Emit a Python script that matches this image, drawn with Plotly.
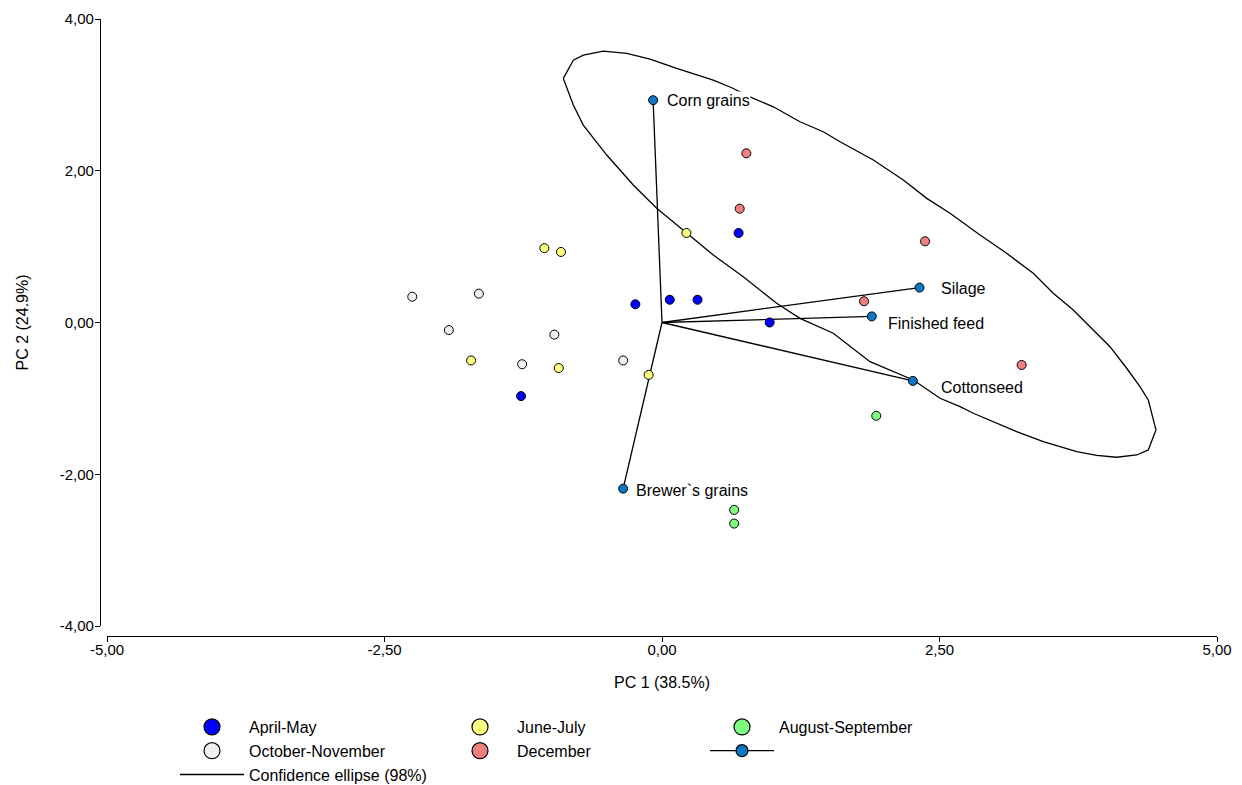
import plotly.graph_objects as go

# ---------------- data ----------------
april_may_x = [0.69, 0.07, 0.32, -0.24, 0.97, -1.27]
april_may_y = [1.18, 0.30, 0.30, 0.24, 0.00, -0.97]

june_july_x = [0.22, -1.06, -0.91, -1.72, -0.93, -0.12]
june_july_y = [1.18, 0.98, 0.93, -0.50, -0.60, -0.69]

aug_sep_x = [1.93, 0.65, 0.65]
aug_sep_y = [-1.23, -2.47, -2.65]

oct_nov_x = [-2.25, -1.65, -1.92, -0.97, -1.26, -0.35]
oct_nov_y = [0.34, 0.38, -0.10, -0.16, -0.55, -0.50]

december_x = [0.76, 0.70, 2.37, 1.82, 3.24]
december_y = [2.23, 1.50, 1.07, 0.28, -0.56]

variable_names = ["Corn grains", "Silage", "Finished feed", "Cottonseed", "Brewer`s grains"]
variable_x = [-0.08, 2.32, 1.89, 2.26, -0.35]
variable_y = [2.93, 0.46, 0.08, -0.77, -2.19]

ellipse_x = [-0.889, -0.799, -0.709, -0.529, -0.318, -0.108, 0.132, 0.282, 0.462, 0.628,
             0.823, 1.003, 1.243, 1.453, 1.604, 1.904, 2.174, 2.385, 2.595, 2.865,
             3.105, 3.345, 3.525, 3.705, 3.871, 4.036, 4.186, 4.306, 4.381, 4.450,
             4.381, 4.277, 4.096, 3.916, 3.736, 3.435, 3.195, 2.985, 2.805, 2.685,
             2.505, 2.264, 1.874, 1.543, 1.243, 1.033, 0.732, 0.462, 0.223, -0.048,
             -0.259, -0.498, -0.709, -0.799, -0.889]
ellipse_y = [3.217, 3.458, 3.524, 3.577, 3.547, 3.472, 3.349, 3.283, 3.195, 3.094,
             2.954, 2.843, 2.646, 2.514, 2.382, 2.141, 1.877, 1.636, 1.439, 1.153,
             0.912, 0.648, 0.385, 0.165, -0.076, -0.319, -0.603, -0.846, -1.021, -1.416,
             -1.680, -1.746, -1.776, -1.750, -1.702, -1.570, -1.439, -1.307, -1.196, -1.109,
             -0.999, -0.758, -0.516, -0.142, 0.055, 0.253, 0.603, 0.889, 1.183, 1.505,
             1.812, 2.207, 2.602, 2.866, 3.217]

x_ticks = [-5, -2.5, 0, 2.5, 5]
x_ticklabels = ["-5,00", "-2,50", "0,00", "2,50", "5,00"]
y_ticks = [-4, -2, 0, 2, 4]
y_ticklabels = ["-4,00", "-2,00", "0,00", "2,00", "4,00"]

# ---------------- styles ----------------
FONT = "Arial, 'Liberation Sans', sans-serif"
groups = [
    ("April-May", april_may_x, april_may_y, "#0000FF", "legend"),
    ("June-July", june_july_x, june_july_y, "#FFFF80", "legend2"),
    ("August-September", aug_sep_x, aug_sep_y, "#80FF80", "legend3"),
    ("October-November", oct_nov_x, oct_nov_y, "#F0F0F0", "legend"),
    ("December", december_x, december_y, "#F08080", "legend2"),
]
VAR_COLOR = "#0A78C2"
label_shift = {  # (xshift, yshift) in px
    "Corn grains": (13, 0),
    "Silage": (20, -1),
    "Finished feed": (15, -7),
    "Cottonseed": (27, -7),
    "Brewer`s grains": (12, -2),
}

fig = go.Figure()

# confidence ellipse
fig.add_trace(go.Scatter(x=ellipse_x, y=ellipse_y, mode="lines",
                         line=dict(color="black", width=1.3),
                         showlegend=False, hoverinfo="skip"))

# loading vectors from the origin
vx, vy = [], []
for x, y in zip(variable_x, variable_y):
    vx += [0, x, None]
    vy += [0, y, None]
fig.add_trace(go.Scatter(x=vx, y=vy, mode="lines",
                         line=dict(color="black", width=1.3),
                         showlegend=False, hoverinfo="skip"))

# observations
for name, gx, gy, col, lg in groups:
    fig.add_trace(go.Scatter(x=gx, y=gy, mode="markers", name=name,
                             marker=dict(size=9, color=col,
                                         line=dict(color="black", width=1)),
                             showlegend=False))

# variable points
fig.add_trace(go.Scatter(x=variable_x, y=variable_y, mode="markers",
                         marker=dict(size=9, color=VAR_COLOR,
                                     line=dict(color="black", width=1)),
                         showlegend=False, text=variable_names))

# legend entries (legend-only traces)
for name, gx, gy, col, lg in groups:
    fig.add_trace(go.Scatter(x=[None], y=[None], mode="markers", name=name,
                             marker=dict(size=16, color=col,
                                         line=dict(color="black", width=1.2)),
                             legend=lg))
fig.add_trace(go.Scatter(x=[None], y=[None], mode="lines", name="Confidence ellipse (98%)",
                         line=dict(color="black", width=1.3), legend="legend"))
fig.add_trace(go.Scatter(x=[None], y=[None], mode="lines+markers", name=" ",
                         line=dict(color="black", width=1.3),
                         marker=dict(size=12, color=VAR_COLOR,
                                     line=dict(color="black", width=1.2)),
                         legend="legend3"))

for name, x, y in zip(variable_names, variable_x, variable_y):
    xs, ys = label_shift[name]
    fig.add_annotation(x=x, y=y, text=name, showarrow=False,
                       xanchor="left", yanchor="middle", xshift=xs, yshift=ys,
                       bgcolor="white", borderpad=0,
                       font=dict(family=FONT, size=16, color="black"))

# page has an 8px body margin; figure is sized/positioned to compensate
FIG_W, FIG_H = 1234, 777
L, R, T, B = 92, 25, 11, 149
W = FIG_W - L - R
H = FIG_H - T - B

legend_common = dict(orientation="v", xanchor="left", yanchor="top",
                     font=dict(family=FONT, size=16, color="black"),
                     itemwidth=64, bgcolor="rgba(0,0,0,0)", tracegroupgap=0,
                     itemclick=False)
ytop = -(702 - (FIG_H - B)) / H
fig.update_layout(
    width=FIG_W, height=FIG_H,
    margin=dict(l=L, r=R, t=T, b=B, autoexpand=False),
    paper_bgcolor="white", plot_bgcolor="white",
    font=dict(family=FONT, size=16, color="black"),
    legend=dict(x=(167 - L) / W, y=ytop, **legend_common),
    legend2=dict(x=(435 - L) / W, y=ytop, **legend_common),
    legend3=dict(x=(697 - L) / W, y=ytop, **legend_common),
    xaxis=dict(range=[-5, 5], domain=[7 / W, 1], anchor="free", position=0,
               tickvals=x_ticks, ticktext=x_ticklabels, showgrid=False, zeroline=False,
               showline=True, linecolor="black", linewidth=1.3,
               ticks="outside", ticklen=5, tickcolor="black", tickwidth=1.3,
               ticklabelstandoff=-5,
               tickfont=dict(family=FONT, size=15, color="black"),
               title=dict(text="PC 1 (38.5%)", standoff=19,
                          font=dict(family=FONT, size=16, color="black"))),
    yaxis=dict(range=[-4, 4], domain=[10 / H, 1], anchor="free", position=0,
               tickvals=y_ticks, ticktext=y_ticklabels, showgrid=False, zeroline=False,
               showline=True, linecolor="black", linewidth=1.3,
               ticks="outside", ticklen=5, tickcolor="black", tickwidth=1.3,
               ticklabelstandoff=-2,
               tickfont=dict(family=FONT, size=15, color="black"),
               title=dict(text="PC 2 (24.9%)", standoff=26,
                          font=dict(family=FONT, size=16, color="black"))),
)

fig.write_html("out.html")
